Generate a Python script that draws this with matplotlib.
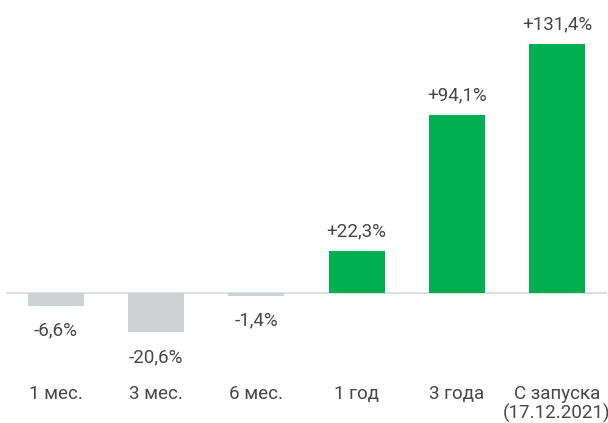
import numpy as np
from matplotlib import pyplot as plt

# Periods and returns, %
categories = ['1 мес.', '3 мес.', '6 мес.', '1 год', '3 года', 'С запуска\n(17.12.2021)']
returns = [-6.6, -20.6, -1.4, 22.3, 94.1, 131.4]

plt.rcParams['font.family'] = ['Roboto', 'DejaVu Sans']

GREEN = '#00b050'
GREY = '#cfd2d5'
TEXT = '#474747'
FS = 13.5

fig = plt.figure(figsize=(6.08, 4.23), dpi=100)
# axes placed so the zero line sits at y=293 px, bars 100 px apart
ax = fig.add_axes([6 / 608, 1 - 406.7 / 423, 601 / 608, 379 / 423])

x = np.arange(len(categories))
colors = [GREEN if v >= 0 else GREY for v in returns]
ax.bar(x, returns, width=0.56, color=colors, zorder=2)
ax.axhline(0, color='#d9d9d9', linewidth=1.2, zorder=1)

ax.set_xlim(-0.5, len(categories) - 0.5)
ax.set_ylim(-60, 140)

for xi, v in zip(x, returns):
    label = ('+' if v > 0 else '') + f'{v:.1f}'.replace('.', ',') + '%'
    if v >= 0:
        ax.annotate(label, (xi, v), xytext=(0, 10.5), textcoords='offset points',
                    ha='center', va='baseline', fontsize=FS, color=TEXT)
    else:
        ax.annotate(label, (xi, v), xytext=(0, -11.5), textcoords='offset points',
                    ha='center', va='top', fontsize=FS, color=TEXT)

# category labels under the chart
for xi, name in zip(x, categories):
    ax.text(xi, -48.5, name, ha='center', va='top', fontsize=FS,
            color=TEXT, linespacing=1.05)

ax.axis('off')

fig.savefig('out.png', dpi=100)
